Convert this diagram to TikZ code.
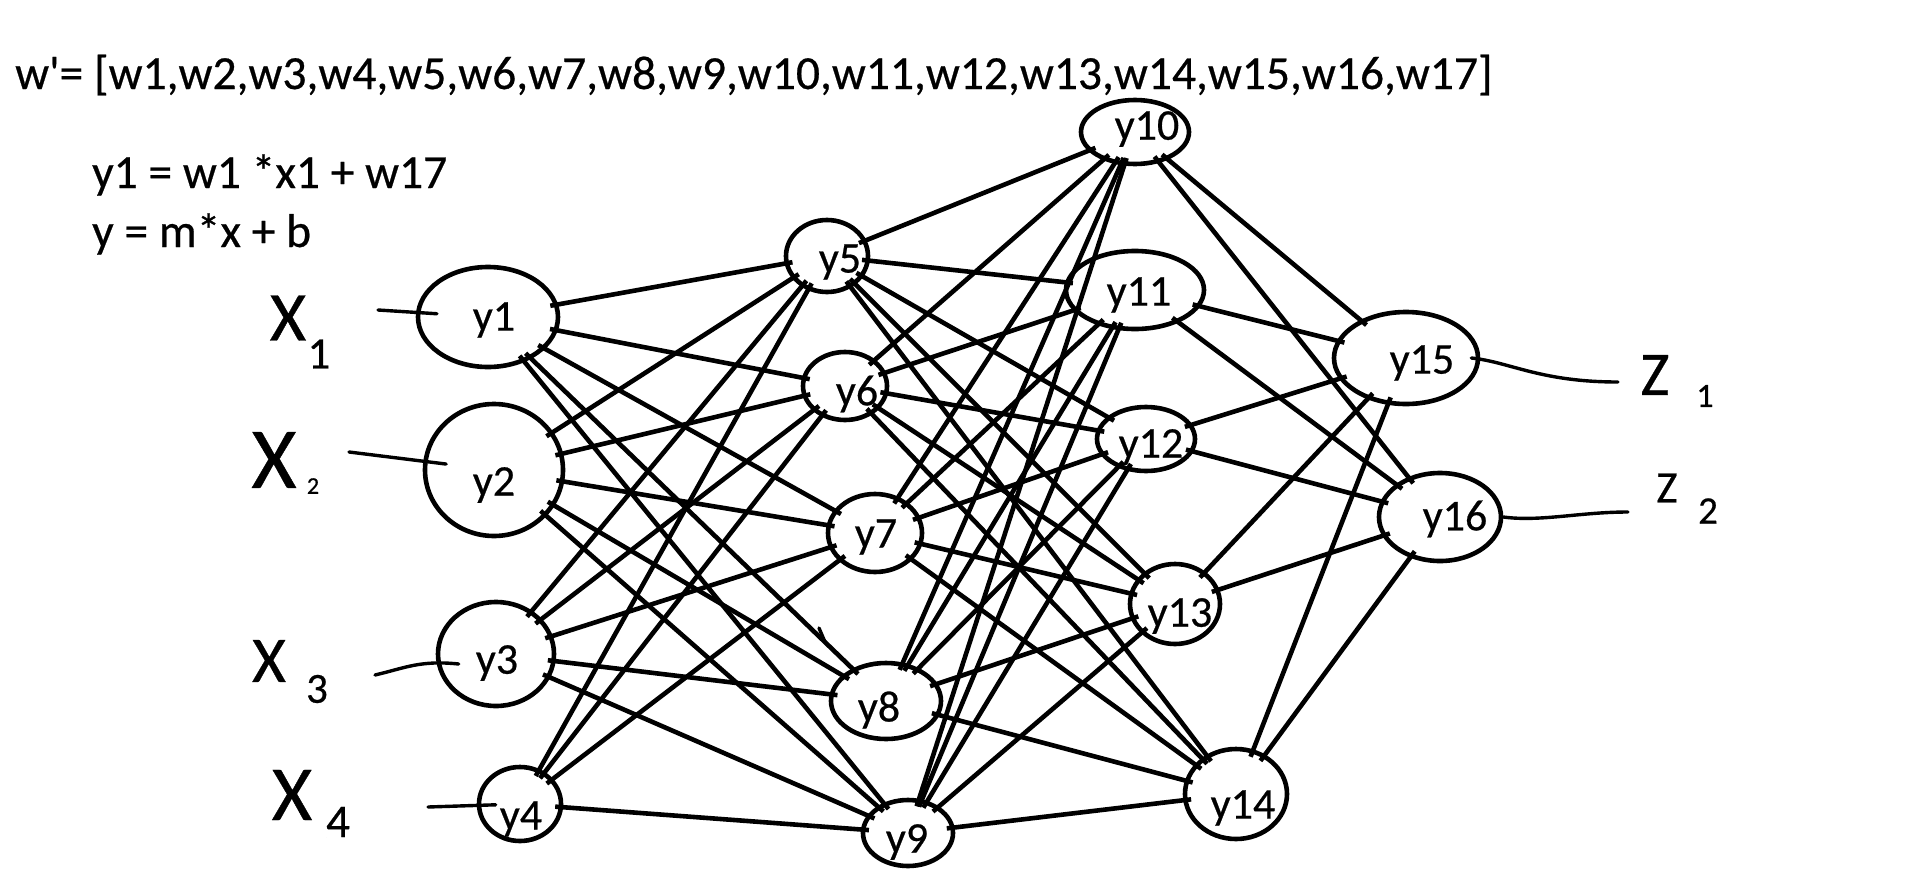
\documentclass[tikz,border=0pt]{standalone}
\usepackage{fontspec}
\newfontfamily\calfont[FakeBold=0.5]{Carlito}
\usetikzlibrary{shapes.geometric,calc}
\begin{document}
\begin{tikzpicture}[x=1pt,y=-1pt,
  neuron/.style={draw, ellipse, line width=4.6pt, inner sep=0pt},
  nlabel/.style={inner sep=0pt, font=\calfont\fontsize{44}{50}\selectfont},
  wire/.style={line width=4.6pt, shorten <=-8pt, shorten >=-8pt},
  hand/.style={line width=3.4pt, line cap=round},
  eq/.style={inner sep=0pt, anchor=base west, font=\calfont\fontsize{47.5}{56}\selectfont},
  glyph/.style={inner sep=0pt}]
\useasboundingbox (0,0) rectangle (1914,886);

% weight vector and the linear model
\node[eq] (wvec) at (15,89) {w'= [w1,w2,w3,w4,w5,w6,w7,w8,w9,w10,w11,w12,w13,w14,w15,w16,w17]};
\node[eq] (eqa) at (92,188) {y1 = w1 *x1 + w17};
\node[eq] (eqb) at (92,247) {y = m*x + b};

% neurons: name / centre / size
\foreach \i/\x/\y/\w/\h in {
  1/488/317/140/100, 2/494/470/138/132, 3/496/654/116/104, 4/520/804/82/74,
  5/827/256/82/72, 6/845/386/84/68, 7/875/533/94/78, 8/886/701/110/76, 9/908/833/90/66,
  10/1135/132/108/64, 11/1135/290/138/78, 12/1146/439/98/64, 13/1175/604/90/80, 14/1236/794/102/90,
  15/1406/358/144/92, 16/1440/517/122/88}
  \node[neuron, minimum width=\w, minimum height=\h] (y\i) at (\x,\y) {};

% connections: input layer to first hidden layer
\foreach \a/\b in {1/5,1/6,1/7,1/8,1/9, 2/5,2/6,2/7,2/8,2/9,
                   3/5,3/6,3/7,3/8,3/9, 4/5,4/6,4/7,4/9}
  \draw[wire] (y\a) -- (y\b);
% first hidden layer to second hidden layer
\foreach \a in {5,...,9}
  \foreach \b in {10,...,14}
    \draw[wire] (y\a) -- (y\b);
% second hidden layer to outputs
\foreach \a in {10,...,14}
  \foreach \b in {15,16}
    \draw[wire] (y\a) -- (y\b);

% neuron labels
\foreach \i/\x/\y in {1/494/320, 2/494/485, 3/497/663, 4/521/819,
  5/840/262, 6/857/394, 7/876/537, 8/879/710, 9/907/842,
  10/1147/129, 11/1139/295, 12/1151/447, 13/1180/616, 14/1243/808,
  15/1422/363, 16/1455/519}
  \node[nlabel] (t\i) at (\x,\y) {y\i};

% hand-written inputs
\node[glyph, font=\calfont\fontsize{70}{70}\selectfont] (x1) at (288,318) {X};
\node[glyph, font=\calfont\fontsize{45}{45}\selectfont] (x1i) at (319,354) {1};
\node[glyph, font=\calfont\fontsize{87}{87}\selectfont] (x2) at (274,460) {X};
\node[glyph, font=\calfont\fontsize{24}{24}\selectfont] (x2i) at (313,486) {2};
\node[glyph, font=\calfont\fontsize{65}{65}\selectfont] (x3) at (269,661) {X};
\node[glyph, font=\calfont\fontsize{43}{43}\selectfont] (x3i) at (317,689) {3};
\node[glyph, font=\calfont\fontsize{78}{78}\selectfont] (x4) at (292,795) {X};
\node[glyph, font=\calfont\fontsize{47}{47}\selectfont] (x4i) at (338,822) {4};

% hand-written outputs
\node[glyph, font=\calfont\fontsize{62}{62}\selectfont] (z1) at (1655,375) {Z};
\node[glyph, font=\calfont\fontsize{34}{34}\selectfont] (z1i) at (1705,396) {1};
\node[glyph, font=\calfont\fontsize{45}{45}\selectfont] (z2) at (1667,488) {Z};
\node[glyph, font=\calfont\fontsize{39}{39}\selectfont] (z2i) at (1708,511) {2};

% input strokes
\coordinate (x1s) at (378,310);
\coordinate (x2s) at (349,452);
\coordinate (x3s) at (375,675);
\coordinate (x4s) at (428,807);
\draw[hand, shorten >=-21pt] (x1s) -- (y1);
\draw[hand, shorten >=-23pt] (x2s) -- (y2);
\draw[hand] (x3s) .. controls (405,668) and (420,660) .. ($(y3.west)+(23,10)$);
\draw[hand, shorten >=-19pt] (x4s) -- (y4);

% output strokes
\coordinate (z1e) at (1618,382);
\coordinate (z2e) at (1628,512);
\draw[hand] ($(y15.east)+(-9,0)$) .. controls (1510,362) and (1540,382) .. (z1e);
\draw[hand] (y16.east) .. controls (1540,522) and (1580,512) .. (z2e);

% stray pen mark
\draw[hand] (819,628) -- (825,642);
\end{tikzpicture}
\end{document}
